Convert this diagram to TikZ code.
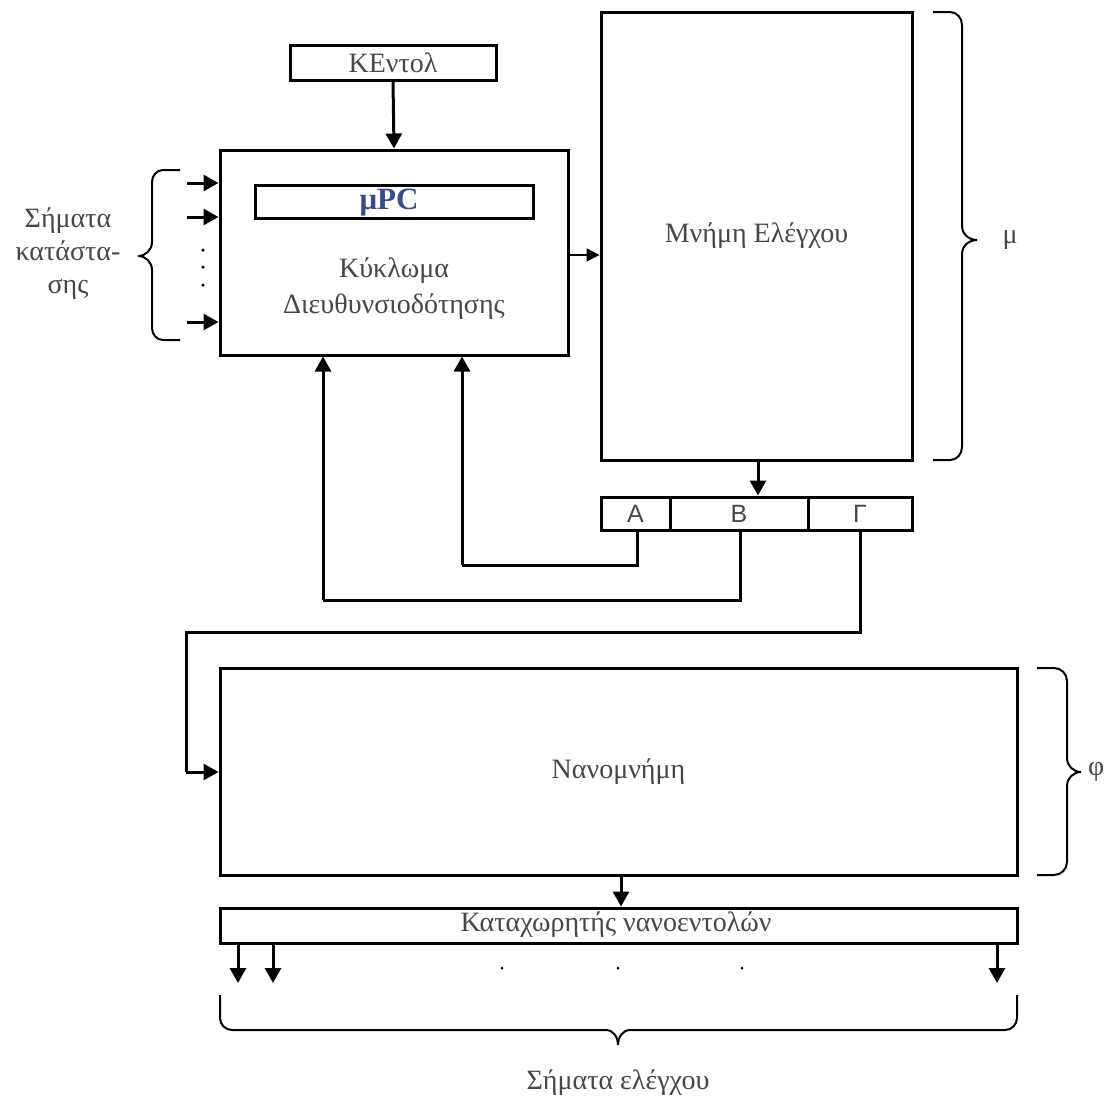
\documentclass[tikz,border=0pt]{standalone}
\usepackage{fontspec}
\setmainfont{Liberation Serif}
\newfontfamily\sansf{Liberation Sans}
\usetikzlibrary{arrows.meta}
\definecolor{txt}{HTML}{474747}
\definecolor{upc}{HTML}{3B4A8E}
\tikzset{
  box/.style={draw=black, line width=3pt, inner sep=0pt, text=txt, font=\fontsize{28}{33}\selectfont},
  regbox/.style={box, minimum height=33pt, font=\sansf\fontsize{25}{30}\selectfont},
  conn/.style={line width=3pt},
  arr/.style={line width=3pt, -{Triangle[width=16pt,length=15pt]}},
  thinarr/.style={line width=1.5pt, -{Triangle[width=13pt,length=13pt]}},
  brc/.style={line width=2pt},
  lbl/.style={text=txt, font=\fontsize{28}{33}\selectfont, inner sep=0pt},
  dot/.style={circle, fill=black, inner sep=0pt, minimum size=3.5pt}
}
\begin{document}
\begin{tikzpicture}[x=1pt,y=-1pt]
\useasboundingbox[fill=white] (0,0) rectangle (1105,1098);
% boxes
\node[box, minimum width=206pt, minimum height=35pt] (kentol) at (393,62.5) {ΚΕντολ};
\node[box, minimum width=348pt, minimum height=205pt] (kyk) at (394,252.5) {};
\node[box, minimum width=278pt, minimum height=33pt] (upc) at (394,201.5) {};
\node[text=upc, font=\fontsize{31}{34}\selectfont\bfseries, inner sep=0pt] (upctxt) at (389,203) {μPC};
\node[lbl, align=center] (kyktxt) at (394,289) {Κύκλωμα\\[3pt]Διευθυνσιοδότησης};
\node[box, minimum width=311pt, minimum height=448pt] (mem) at (756.5,236) {Μνήμη Ελέγχου};
\node[regbox, minimum width=69pt] (ra) at (635.5,513.5) {Α};
\node[regbox, minimum width=138pt] (rb) at (739,513.5) {Β};
\node[regbox, minimum width=104pt] (rc) at (860,513.5) {Γ};
\node[box, minimum width=797pt, minimum height=207pt] (nano) at (618.5,771.5) {Νανομνήμη};
\node[box, minimum width=797pt, minimum height=35pt] (kat) at (618.5,925.5) {};
\node[lbl] (kattxt) at (616,925) {Καταχωρητής νανοεντολών};
% labels
\node[lbl, align=center] (status) at (68,254) {Σήματα\\κατάστα-\\σης};
\node[lbl] (mu) at (1010,240) {μ};
\node[lbl, anchor=east] (phi) at (1104.5,772) {φ};
\node[lbl] (ctrl) at (618,1083) {Σήματα ελέγχου};
% main arrows
\draw[arr] (kentol.south) -- (kyk.north);
\draw[thinarr] (kyk.east |- 0,255) -- (mem.west |- 0,255);
\draw[arr] (mem.south -| 758,0) -- (rb.north -| 758,0);
\draw[arr] (nano.south -| 621,0) -- (kat.north -| 621,0);
% status inputs
\foreach \y/\n in {183/s1,217/s2,322/s3}{
  \coordinate (\n) at (187,\y);
  \draw[arr] (\n) -- (\n -| kyk.west);
}
\node[dot] (d1) at (203,250) {};
\node[dot] (d2) at (203,267) {};
\node[dot] (d3) at (203,285) {};
% feedback lines
\coordinate (a1) at (637,565);
\coordinate (b1) at (740,600);
\coordinate (c1) at (860,632);
\coordinate (c2) at (186,772);
\draw[conn] (ra.south -| a1) -- (a1) -- (a1 -| 462,0) coordinate (a2);
\draw[arr] (a2) -- (a2 |- kyk.south);
\draw[conn] (rb.south -| b1) -- (b1) -- (b1 -| 323,0) coordinate (b2);
\draw[arr] (b2) -- (b2 |- kyk.south);
\draw[conn] (rc.south -| c1) -- (c1) -- (c1 -| c2) -- (c2);
\draw[arr] (c2) -- (c2 -| nano.west);
% output arrows
\foreach \x/\n in {238/o1,273/o2,997/o3}{
  \coordinate (\n) at (\x,983);
  \draw[arr] (kat.south -| \n) -- (\n);
}
\node[dot, minimum size=3pt] (e1) at (502,968) {};
\node[dot, minimum size=3pt] (e2) at (618,968) {};
\node[dot, minimum size=3pt] (e3) at (742,968) {};
% braces
\draw[brc] (933,12) -- (950,12) to[out=0,in=90] (962,25) -- (962,226) to[out=-90,in=180] (977,240) to[out=180,in=90] (962,254) -- (962,447) to[out=-90,in=0] (950,460) -- (933,460);
\draw[brc] (1037,668) -- (1054,668) to[out=0,in=90] (1067,681) -- (1067,758) to[out=-90,in=180] (1081,772) to[out=180,in=90] (1067,786) -- (1067,862) to[out=-90,in=0] (1054,875) -- (1037,875);
\draw[brc] (180,170) -- (163,170) to[out=180,in=90] (152,182) -- (152,242) to[out=-90,in=0] (138,256) to[out=0,in=90] (152,270) -- (152,328) to[out=-90,in=180] (163,340) -- (180,340);
\draw[brc] (220,995) -- (220,1018) to[out=-90,in=180] (232,1030) -- (606,1030) to[out=0,in=90] (618,1045) to[out=90,in=180] (630,1030) -- (1005,1030) to[out=0,in=-90] (1017,1018) -- (1017,995);
\end{tikzpicture}
\end{document}
